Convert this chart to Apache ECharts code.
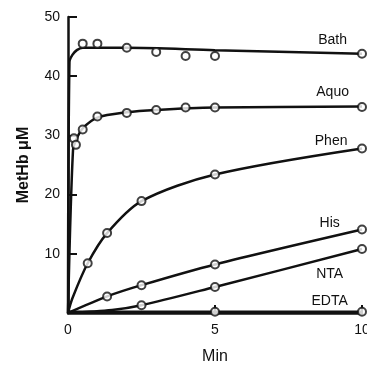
<!DOCTYPE html>
<html>
<head>
<meta charset="utf-8">
<script src="https://cdn.jsdelivr.net/npm/echarts@6/dist/echarts.min.js"></script>
<style>
  html, body { margin: 0; padding: 0; background: #fff; }
  #main { width: 367px; height: 365px; }
</style>
</head>
<body>
<div id="main"></div>
<script>
// 测量点 [min, MetHb uM]
var bathPts = [[0.5, 45.5], [1, 45.5], [2, 44.8], [3, 44.1], [4, 43.4], [5, 43.4], [10, 43.8]]
var aquoPts = [[0.2, 29.5], [0.27, 28.4], [0.5, 31], [1, 33.2], [2, 33.8], [3, 34.3], [4, 34.7], [5, 34.7], [10, 34.8]]
var phenPts = [[0.67, 8.4], [1.33, 13.5], [2.5, 18.9], [5, 23.4], [10, 27.8]]
var hisPts = [[1.33, 2.8], [2.5, 4.7], [5, 8.2], [10, 14.1]]
var ntaPts = [[2.5, 1.3], [5, 4.4], [10, 10.8]]
var edtaPts = [[5, 0.2], [10, 0.2]]

// 拟合曲线
var bathFit = [[0, 0], [0.05, 42.4], [0.15, 43.6], [0.3, 44.4], [0.5, 44.8], [2, 44.8], [5, 44.4], [10, 43.8]]
var aquoFit = [[0, 0], [0.17, 27.5], [0.3, 29.5], [0.5, 31.2], [1, 33], [2, 33.9], [3, 34.3], [5, 34.7], [10, 34.9]]
var phenFit = [[0, 0], [0.15, 2.5], [0.67, 8.4], [1.33, 13.5], [2.5, 18.9], [5, 23.4], [10, 27.8]]
var hisFit = [[0, 0], [1.33, 2.8], [2.5, 4.7], [5, 8.2], [10, 14.1]]
var ntaFit = [[0, 0], [1.5, 0.5], [2.5, 1.3], [5, 4.4], [10, 10.8]]
var edtaFit = [[0, 0.2], [5, 0.2], [10, 0.2]]

var xTicks = [0, 5, 10]
var yTicks = [10, 20, 30, 40, 50]

// 曲线名称及其位置 (data coords)
var names = ['Bath', 'Aquo', 'Phen', 'His', 'NTA', 'EDTA']
var nameAt = [[9.0, 46.1], [9.0, 37.3], [8.95, 29.1], [8.9, 15.2], [8.9, 6.6], [8.9, 2.0]]

var ink = '#111'
var font = '"Liberation Sans", Arial, sans-serif'

function fitLine(data) {
  return {
    type: 'line',
    data: data,
    smooth: 0.3,
    showSymbol: false,
    lineStyle: { color: ink, width: 2.5 },
    silent: true,
    z: 2
  }
}
function pts(data) {
  return {
    type: 'scatter',
    data: data,
    symbol: 'circle',
    symbolSize: 8,
    itemStyle: { color: '#fff', borderColor: ink, borderWidth: 2 },
    z: 3
  }
}

var myChart = echarts.init(document.getElementById('main'))
var option = {
  backgroundColor: '#fff',
  animation: false,
  grid: { left: 68, right: 5, top: 17, bottom: 52, containLabel: false, outerBoundsMode: 'none' },
  xAxis: {
    type: 'value',
    min: 0,
    max: 10,
    interval: 5,
    name: 'Min',
    nameLocation: 'middle',
    nameGap: 36,
    nameTextStyle: { color: ink, fontSize: 16, fontFamily: font },
    splitLine: { show: false },
    axisLine: { show: true, lineStyle: { color: ink, width: 2.5 } },
    axisTick: { show: true, inside: true, length: 8, lineStyle: { color: ink, width: 2 } },
    axisLabel: {
      color: ink, fontSize: 14, fontFamily: font, margin: 10,
      formatter: function (v) { return xTicks.indexOf(v) >= 0 ? String(v) : '' }
    }
  },
  yAxis: {
    type: 'value',
    min: 0,
    max: 50,
    interval: 10,
    name: 'MetHb μM',
    nameLocation: 'middle',
    nameGap: 36,
    nameTextStyle: { color: ink, fontSize: 16, fontWeight: 'bold', fontFamily: font },
    splitLine: { show: false },
    axisLine: { show: true, lineStyle: { color: ink, width: 2.5 } },
    axisTick: { show: true, inside: true, length: 9, lineStyle: { color: ink, width: 2 } },
    axisLabel: {
      color: ink, fontSize: 14, fontFamily: font, margin: 8,
      formatter: function (v) { return yTicks.indexOf(v) >= 0 ? String(v) : '' }
    }
  },
  series: [
    fitLine(bathFit), fitLine(aquoFit), fitLine(phenFit),
    fitLine(hisFit), fitLine(ntaFit), fitLine(edtaFit),
    pts(bathPts), pts(aquoPts), pts(phenPts),
    pts(hisPts), pts(ntaPts), pts(edtaPts)
  ]
}
myChart.setOption(option)

// 曲线标签
var labels = names.map(function (n, i) {
  var p = myChart.convertToPixel({ gridIndex: 0 }, nameAt[i])
  return {
    type: 'text',
    x: p[0],
    y: p[1],
    z: 10,
    style: {
      text: n,
      fill: ink,
      font: '14px ' + font,
      align: 'center',
      verticalAlign: 'middle'
    }
  }
})
myChart.setOption({ graphic: labels })
</script>
</body>
</html>
